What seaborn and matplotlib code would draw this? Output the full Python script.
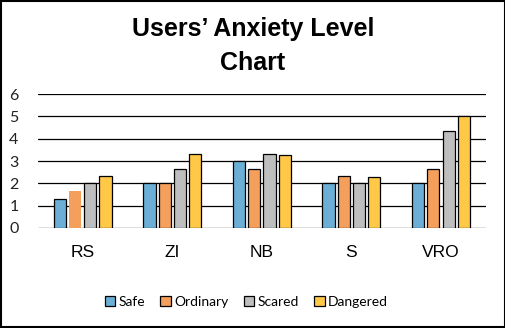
import matplotlib
matplotlib.use("Agg")
import matplotlib.pyplot as plt
from matplotlib.patches import Rectangle
import seaborn as sns
import pandas as pd

categories = ["RS", "ZI", "NB", "S", "VRO"]
levels = ["Safe", "Ordinary", "Scared", "Dangered"]
safe = [1.3, 2.0, 3.0, 2.0, 2.0]
ordinary = [1.67, 2.0, 2.65, 2.32, 2.65]
scared = [2.0, 2.65, 3.3, 2.0, 4.33]
dangered = [2.32, 3.3, 3.25, 2.28, 5.0]
colors = ["#6BAFD6", "#F49F5B", "#BEBEBE", "#FFC847"]
yticks = [0, 1, 2, 3, 4, 5, 6]

rows = []
for lvl, vals in zip(levels, [safe, ordinary, scared, dangered]):
    for cat, v in zip(categories, vals):
        rows.append({"Location": cat, "Level": lvl, "Value": v})
df = pd.DataFrame(rows)

sns.set_style("white")
plt.rcParams["font.family"] = ["Liberation Sans", "DejaVu Sans"]
plt.rcParams["text.color"] = "black"
plt.rcParams["xtick.color"] = "black"
plt.rcParams["ytick.color"] = "black"
plt.rcParams["xtick.labelcolor"] = "black"
plt.rcParams["ytick.labelcolor"] = "#222222"

fig = plt.figure(figsize=(5.06, 3.28), dpi=100)
ax = fig.add_axes([0.075, 0.305, 0.885, 0.408])

sns.barplot(data=df, x="Location", y="Value", hue="Level", order=categories,
            hue_order=levels, palette=colors, width=0.68, gap=0.2,
            edgecolor="black", linewidth=0.9, saturation=1, ax=ax, legend=True,
            zorder=3)

# the first Ordinary bar is drawn without an outline
first_ord = ax.containers[1][0]
first_ord.set_edgecolor(first_ord.get_facecolor())
first_ord.set_linewidth(0)

ax.set_ylim(0, 6)
ax.set_xlim(-0.5, 4.5)
ax.set_yticks(yticks)
ax.set_yticklabels([str(t) for t in yticks], fontsize=11.5, family="Lato")
ax.yaxis.grid(True, color="black", linewidth=0.9, zorder=0)
ax.set_axisbelow(True)
for s in ax.spines.values():
    s.set_visible(False)
ax.tick_params(axis="y", length=0, pad=14)
ax.tick_params(axis="x", length=0, pad=12, labelsize=12.5)
ax.set_xlabel("")
ax.set_ylabel("")

handles, labels = ax.get_legend_handles_labels()
ax.get_legend().remove()
for h in handles:
    h.set_edgecolor("black")
    h.set_linewidth(0.9)
fig.legend(handles, labels, loc="center", bbox_to_anchor=(0.487, 0.08), ncol=4,
           frameon=False, handlelength=0.75, handleheight=0.75,
           handletextpad=0.25, columnspacing=1.1, prop={"family": "Lato", "size": 10})

fig.text(0.5, 0.913, "Users\u2019 Anxiety Level", ha="center", va="center",
         fontsize=18, fontweight="bold")
fig.text(0.5, 0.808, "Chart", ha="center", va="center",
         fontsize=18, fontweight="bold")

fig.patches.append(Rectangle((0.002, 0.003), 0.996, 0.994, transform=fig.transFigure,
                             fill=False, edgecolor="black", linewidth=1.5))

fig.savefig("out.png", dpi=100)
